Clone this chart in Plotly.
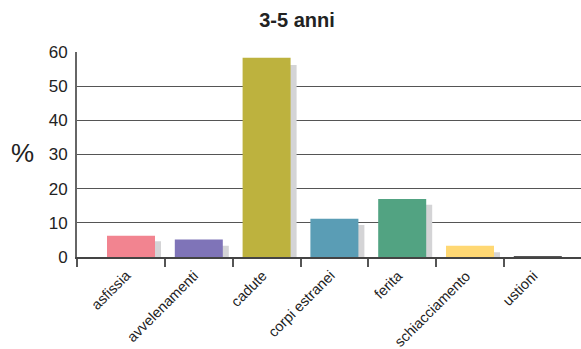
import plotly.graph_objects as go

categories = ["asfissia", "avvelenamenti", "cadute", "corpi estranei", "ferita", "schiacciamento", "ustioni"]
values = [6.2, 5.1, 58.3, 11.2, 17.0, 3.3, 0.2]
shadow_values = [4.6, 3.3, 56.2, 9.4, 15.3, 1.4, 0.0]
colors = ["#F28490", "#7F74B8", "#BDB23E", "#5A9DB5", "#52A382", "#FFD873", "#555555"]
title_text = "3-5 anni"
y_label = "%"

W, H = 581, 349
L, T = 77, 52
Y0 = 257.3
B = H - Y0
px_per_cat = 67.8
x_left = (77 - 131) / px_per_cat
x_right = (581 - 131) / px_per_cat
bar_w = 48 / px_per_cat
shadow_dx = 6 / px_per_cat

idx = list(range(len(categories)))

fig = go.Figure()
fig.add_trace(go.Bar(
    x=idx, y=shadow_values, width=bar_w, offset=-bar_w / 2 + shadow_dx,
    marker=dict(color="#D4D4D6", line=dict(width=0)), hoverinfo="skip", showlegend=False,
))
fig.add_trace(go.Bar(
    x=idx, y=values, width=bar_w, offset=-bar_w / 2,
    marker=dict(color=colors, line=dict(width=0)), showlegend=False,
))

annotations = [dict(text=y_label, xref="paper", yref="y", x=(22 - L) / (W - L), y=30.5,
                    xanchor="center", yanchor="middle", showarrow=False,
                    font=dict(size=26, color="#222222"))]
plot_h = Y0 - T
for i, c in zip(idx, categories):
    annotations.append(dict(
        text=c, xref="x", yref="paper", x=i + 6 / px_per_cat, y=(Y0 - 265) / plot_h,
        xanchor="right", yanchor="top", textangle=-45, showarrow=False,
        font=dict(size=14.5, color="#222222"),
    ))

fig.update_layout(
    width=W, height=H,
    margin=dict(l=L, r=0, t=T, b=B, pad=0),
    plot_bgcolor="white", paper_bgcolor="white",
    barmode="overlay",
    font=dict(family="Liberation Sans, Arial, sans-serif", color="#222222"),
    title=dict(text="<b>" + title_text + "</b>", x=297 / W, xref="container", xanchor="center",
               y=1 - 20 / H, yref="container", yanchor="middle",
               font=dict(size=20, color="#222222")),
    xaxis=dict(
        range=[x_left, x_right], tickmode="array", tickvals=idx, ticktext=[""] * len(idx),
        ticks="", showgrid=False, zeroline=False, automargin=False,
        showline=True, linecolor="#444444", linewidth=2,
        minor=dict(tickmode="array", tickvals=[x_left] + [i + 0.5 for i in range(6)],
                   ticks="outside", ticklen=8, tickwidth=2, tickcolor="#555555", showgrid=False),
    ),
    yaxis=dict(
        range=[0, 60], dtick=10, tickmode="linear", tick0=0, automargin=False,
        showgrid=True, gridcolor="#555555", gridwidth=1.2,
        zeroline=False, showline=True, linecolor="#666666", linewidth=2,
        ticks="", ticklabelstandoff=4, tickfont=dict(size=17, color="#222222"),
    ),
    annotations=annotations,
)

fig.write_html("out.html", config={"displayModeBar": False},
               post_script="document.body.style.margin='0';document.body.style.overflow='hidden';")
